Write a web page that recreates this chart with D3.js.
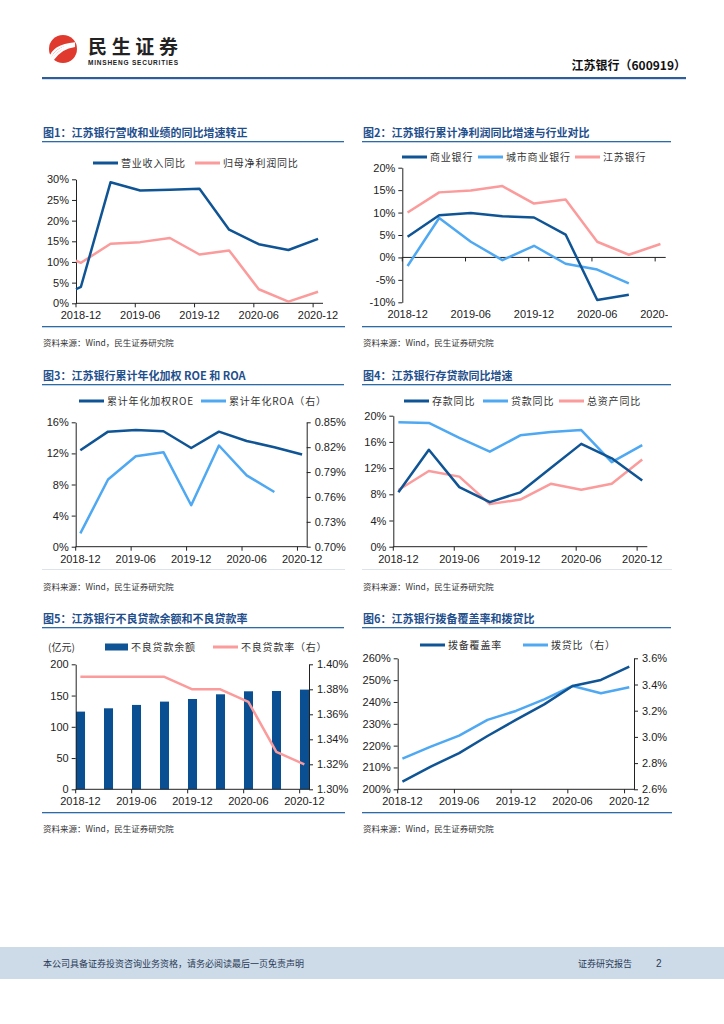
<!DOCTYPE html>
<html>
<head>
<meta charset="utf-8">
<script src="https://cdn.jsdelivr.net/npm/d3@7"></script>
<style>
  body { margin: 0; background: #fff; }
  svg { display: block; }
</style>
</head>
<body>
<svg id="page" width="724" height="1024"></svg>
<script>
// categories
const quarters = ["2018-12","2019-03","2019-06","2019-09","2019-12","2020-03","2020-06","2020-09","2020-12"];
const tickMonths = ["2018-12","2019-06","2019-12","2020-06","2020-12"];
const months = d3.timeMonth.range(new Date(2018, 11, 1), new Date(2021, 0, 1)).map(d3.timeFormat("%Y-%m"));

// 图1
const revenueStart = 3.4, netProfitStart = 10.3;
const revenueYoY = [4.0, 29.3, 27.3, 27.5, 27.7, 17.8, 14.3, 12.9, 15.6];
const netProfitYoY = [9.8, 14.4, 14.8, 15.8, 11.8, 12.8, 3.4, 0.4, 2.8];

// 图2
const commercialBanks = [4.6, 9.4, 9.9, 9.2, 8.9, 5.1, -9.5, -8.3];
const cityBanks = [-1.9, 8.8, 3.5, -0.6, 2.6, -1.4, -2.7, -5.8];
const jsBankProfit = [10.0, 14.5, 14.9, 15.9, 12.0, 12.9, 3.5, 0.6, 3.0];

// 图3
const roe = [12.4, 14.8, 15.0, 14.85, 12.7, 14.8, 13.6, 12.8, 11.85];
const roa = [0.716, 0.781, 0.809, 0.814, 0.750, 0.822, 0.786, 0.766];

// 图4
const depositYoY = [8.3, 14.8, 9.1, 6.8, 8.3, 12.0, 15.7, 13.5, 10.1];
const loanYoY = [19.0, 18.9, 16.6, 14.5, 17.0, 17.5, 17.8, 12.9, 15.5];
const assetYoY = [8.65, 11.55, 10.7, 6.5, 7.2, 9.6, 8.7, 9.6, 13.3];

// 图5
const nplBalance = [124.3, 129.6, 135.0, 140.3, 144.5, 152.0, 156.8, 157.3, 159.5];
const nplRatio = [1.39, 1.39, 1.39, 1.39, 1.38, 1.38, 1.37, 1.33, 1.32];

// 图6
const provisionCoverage = [203.5, 210.4, 216.6, 224.4, 231.8, 238.9, 247.3, 250.1, 256.2];
const loanProvisionRatio = [2.834, 2.926, 3.01, 3.13, 3.198, 3.287, 3.389, 3.333, 3.379];

const DARK = "#0f5494", LIGHT = "#4ea8f2", PINK = "#fb9b9b", TITLE = "#1f4f8c";
const CJK = "'Noto Sans CJK SC', sans-serif";
const NUM = "'Liberation Sans', Arial, sans-serif";

const svg = d3.select("#page");

// ---------- header ----------
const logo = svg.append("g");
logo.append("circle").attr("cx", 63).attr("cy", 49).attr("r", 14).attr("fill", "#e03a2f");
[[-7, 4], [-3, 8], [1, 11]].forEach(([dx, dy]) => {
  logo.append("path")
    .attr("d", `M${52 + dx * 0.3},${58 + dy * 0.2} Q${60 + dx},${44 + dy * 0.3} ${75},${42 + dy * 0.35}`)
    .attr("fill", "none").attr("stroke", "#fff").attr("stroke-width", 2.2);
});
svg.append("text").attr("x", 88).attr("y", 54).text("民生证券")
  .style("font-family", CJK).style("font-weight", 700).style("font-size", "19px")
  .attr("textLength", 90).attr("fill", "#222");
svg.append("text").attr("x", 88).attr("y", 64.5).text("MINSHENG SECURITIES")
  .style("font-family", NUM).style("font-weight", 700).style("font-size", "6.5px")
  .attr("textLength", 90).attr("fill", "#222");
svg.append("text").attr("x", 686).attr("y", 70).attr("text-anchor", "end").text("江苏银行（600919）")
  .style("font-family", CJK).style("font-weight", 700).style("font-size", "12px").attr("fill", "#111");
svg.append("rect").attr("x", 42).attr("y", 77).attr("width", 644).attr("height", 2.2).attr("fill", "#2d5d9b");

// ---------- footer ----------
svg.append("rect").attr("x", 0).attr("y", 947).attr("width", 724).attr("height", 32).attr("fill", "#cddbe9");
svg.append("text").attr("x", 43).attr("y", 967).text("本公司具备证券投资咨询业务资格，请务必阅读最后一页免责声明")
  .style("font-family", CJK).style("font-size", "9px").attr("fill", "#2a3a55");
svg.append("text").attr("x", 578).attr("y", 967).text("证券研究报告")
  .style("font-family", CJK).style("font-size", "9px").attr("fill", "#2a3a55");
svg.append("text").attr("x", 656).attr("y", 967).text("2")
  .style("font-family", NUM).style("font-size", "10px").attr("fill", "#2a3a55");

// ---------- helpers ----------
function header(x, y, w, title) {
  svg.append("text").attr("x", x).attr("y", y).text(title)
    .style("font-family", CJK).style("font-weight", 700).style("font-size", "11px").attr("fill", TITLE);
  svg.append("rect").attr("x", x - 1).attr("y", y + 4).attr("width", w).attr("height", 1.3).attr("fill", "#2d6aa8");
}

function source(x, y) {
  svg.append("text").attr("x", x).attr("y", y).text("资料来源：Wind，民生证券研究院")
    .style("font-family", CJK).style("font-size", "8.5px").attr("fill", "#333");
}

function legendLine(x, y, color, label) {
  svg.append("line").attr("x1", x).attr("x2", x + 25).attr("y1", y).attr("y2", y)
    .attr("stroke", color).attr("stroke-width", 3);
  svg.append("text").attr("x", x + 28).attr("y", y + 4).text(label)
    .style("font-family", CJK).style("font-size", "10px").style("letter-spacing", "0.8px").attr("fill", "#333");
}

function legendBar(x, y, color, label) {
  svg.append("rect").attr("x", x).attr("y", y - 3.5).attr("width", 23).attr("height", 7).attr("fill", color);
  svg.append("text").attr("x", x + 26).attr("y", y + 4).text(label)
    .style("font-family", CJK).style("font-size", "10px").style("letter-spacing", "0.8px").attr("fill", "#333");
}

function styleAxis(a) {
  a.select(".domain").attr("stroke", "#222");
  a.selectAll(".tick line").attr("stroke", "#222");
  a.selectAll(".tick text").style("font-family", NUM).style("font-size", "11px").attr("fill", "#222");
}

function panel(cfg) {
  const g = svg.append("g");
  const x = d3.scaleBand().domain(months).range([cfg.x0, cfg.x1]);
  const cx = m => x(m) + x.bandwidth() / 2;
  const yL = d3.scaleLinear().domain(cfg.left).range([cfg.yBot, cfg.yTop]);
  let yR = null;

  const la = g.append("g").attr("transform", `translate(${cfg.x0},0)`)
    .call(d3.axisLeft(yL).tickValues(cfg.leftTicks).tickFormat(cfg.leftFmt).tickSize(4).tickSizeOuter(0).tickPadding(3));
  styleAxis(la);

  if (cfg.right) {
    yR = d3.scaleLinear().domain(cfg.right).range([cfg.yBot, cfg.yTop]);
    const ra = g.append("g").attr("transform", `translate(${cfg.x1},0)`)
      .call(d3.axisRight(yR).tickValues(cfg.rightTicks).tickFormat(cfg.rightFmt).tickSize(4).tickSizeOuter(0).tickPadding(4));
    styleAxis(ra);
  }

  // category axis: ticks on band edges, labels on band centres
  const axisY = cfg.axisY != null ? yL(cfg.axisY) : cfg.yBot;
  g.append("line").attr("x1", cfg.x0).attr("x2", cfg.x1).attr("y1", axisY).attr("y2", axisY).attr("stroke", "#222");
  g.selectAll(".xt").data(tickMonths).join("line")
    .attr("x1", d => x(d)).attr("x2", d => x(d))
    .attr("y1", axisY).attr("y2", axisY + 4).attr("stroke", "#222");

  let labels = g;
  if (cfg.clipX) {
    const id = "clip" + Math.round(cfg.x0);
    svg.append("clipPath").attr("id", id).append("rect")
      .attr("x", cfg.x0 - 40).attr("y", cfg.yBot).attr("width", cfg.clipX - cfg.x0 + 40).attr("height", 30);
    labels = g.append("g").attr("clip-path", `url(#${id})`);
  }
  labels.selectAll(".xl").data(tickMonths).join("text")
    .attr("x", d => cx(d)).attr("y", cfg.yBot + 16).attr("text-anchor", "middle").text(d => d)
    .style("font-family", NUM).style("font-size", "11px").attr("fill", "#222");

  return { g, x, cx, yL, yR };
}

function drawLine(p, yScale, values, color, start) {
  const pts = values.map((v, i) => [p.cx(quarters[i]), yScale(v)]);
  if (start != null) pts.unshift([p.x(months[0]), yScale(start)]);
  p.g.append("path").datum(pts)
    .attr("d", d3.line())
    .attr("fill", "none").attr("stroke", color).attr("stroke-width", 2.5).attr("stroke-linejoin", "round");
}

const pct = d => d + "%";

// ---------- 图1 ----------
header(43, 137, 302, "图1：江苏银行营收和业绩的同比增速转正");
legendLine(93, 163, DARK, "营业收入同比");
legendLine(195, 163, PINK, "归母净利润同比");
{
  const p = panel({ x0: 76, x1: 323, yTop: 179.3, yBot: 303.3, left: [0, 30],
    leftTicks: [0, 5, 10, 15, 20, 25, 30], leftFmt: pct });
  drawLine(p, p.yL, netProfitYoY, PINK, netProfitStart);
  drawLine(p, p.yL, revenueYoY, DARK, revenueStart);
}
svg.append("rect").attr("x", 42).attr("y", 326).attr("width", 303).attr("height", 1.3).attr("fill", "#2d6aa8");
source(43, 346);

// ---------- 图2 ----------
header(363, 137, 309, "图2：江苏银行累计净利润同比增速与行业对比");
legendLine(402, 157, DARK, "商业银行");
legendLine(478, 157, LIGHT, "城市商业银行");
legendLine(575, 157, PINK, "江苏银行");
{
  const p = panel({ x0: 402.3, x1: 665.7, yTop: 167.7, yBot: 302.3, left: [-10, 20],
    leftTicks: [-10, -5, 0, 5, 10, 15, 20], leftFmt: pct, axisY: 0, clipX: 668 });
  drawLine(p, p.yL, jsBankProfit, PINK);
  drawLine(p, p.yL, cityBanks, LIGHT);
  drawLine(p, p.yL, commercialBanks, DARK);
}
svg.append("rect").attr("x", 362).attr("y", 326).attr("width", 310).attr("height", 1.3).attr("fill", "#2d6aa8");
source(363, 346);

// ---------- 图3 ----------
header(43, 380, 302, "图3：江苏银行累计年化加权 ROE 和 ROA");
legendLine(79, 401, DARK, "累计年化加权ROE");
legendLine(201, 401, LIGHT, "累计年化ROA（右）");
{
  const p = panel({ x0: 75.7, x1: 306.7, yTop: 422.3, yBot: 546.7, left: [0, 16],
    leftTicks: [0, 4, 8, 12, 16], leftFmt: pct,
    right: [0.70, 0.85], rightTicks: [0.70, 0.73, 0.76, 0.79, 0.82, 0.85], rightFmt: d => d.toFixed(2) + "%" });
  drawLine(p, p.yL, roe, DARK);
  drawLine(p, p.yR, roa, LIGHT);
}
svg.append("rect").attr("x", 42).attr("y", 569).attr("width", 303).attr("height", 1).attr("fill", "#dde3ea");
source(43, 590);

// ---------- 图4 ----------
header(363, 380, 309, "图4：江苏银行存贷款同比增速");
legendLine(404, 401, DARK, "存款同比");
legendLine(483, 401, LIGHT, "贷款同比");
legendLine(559, 401, PINK, "总资产同比");
{
  const p = panel({ x0: 393.3, x1: 647.3, yTop: 415.7, yBot: 546.7, left: [0, 20],
    leftTicks: [0, 4, 8, 12, 16, 20], leftFmt: pct });
  drawLine(p, p.yL, assetYoY, PINK);
  drawLine(p, p.yL, loanYoY, LIGHT);
  drawLine(p, p.yL, depositYoY, DARK);
}
svg.append("rect").attr("x", 362).attr("y", 569).attr("width", 310).attr("height", 1).attr("fill", "#dde3ea");
source(363, 590);

// ---------- 图5 ----------
header(43, 623, 302, "图5：江苏银行不良贷款余额和不良贷款率");
legendBar(105, 647, DARK, "不良贷款余额");
legendLine(213, 647, PINK, "不良贷款率（右）");
svg.append("text").attr("x", 48).attr("y", 651).text("(亿元)")
  .style("font-family", CJK).style("font-size", "10px").attr("fill", "#333");
{
  const p = panel({ x0: 75.7, x1: 309, yTop: 664.3, yBot: 789.3, left: [0, 200],
    leftTicks: [0, 50, 100, 150, 200], leftFmt: d => d,
    right: [1.30, 1.40], rightTicks: [1.30, 1.32, 1.34, 1.36, 1.38, 1.40], rightFmt: d => d.toFixed(2) + "%" });
  p.g.insert("g", ":first-child").selectAll("rect").data(nplBalance).join("rect")
    .attr("x", (d, i) => p.x(quarters[i]) + 0.3)
    .attr("width", p.x.bandwidth() - 0.3)
    .attr("y", d => p.yL(d))
    .attr("height", d => p.yL(0) - p.yL(d))
    .attr("fill", "#0b4f93");
  drawLine(p, p.yR, nplRatio, PINK);
}
svg.append("rect").attr("x", 42).attr("y", 812).attr("width", 303).attr("height", 1.3).attr("fill", "#2d6aa8");
source(43, 832);

// ---------- 图6 ----------
header(363, 623, 309, "图6：江苏银行拨备覆盖率和拨贷比");
legendLine(420, 645, DARK, "拨备覆盖率");
legendLine(523, 645, LIGHT, "拨贷比（右）");
{
  const p = panel({ x0: 397.7, x1: 634, yTop: 658.3, yBot: 789.3, left: [200, 260],
    leftTicks: [200, 210, 220, 230, 240, 250, 260], leftFmt: pct,
    right: [2.6, 3.6], rightTicks: [2.6, 2.8, 3.0, 3.2, 3.4, 3.6], rightFmt: d => d.toFixed(1) + "%" });
  drawLine(p, p.yR, loanProvisionRatio, LIGHT);
  drawLine(p, p.yL, provisionCoverage, DARK);
}
svg.append("rect").attr("x", 362).attr("y", 812).attr("width", 310).attr("height", 1.3).attr("fill", "#2d6aa8");
source(363, 832);
</script>
</body>
</html>
